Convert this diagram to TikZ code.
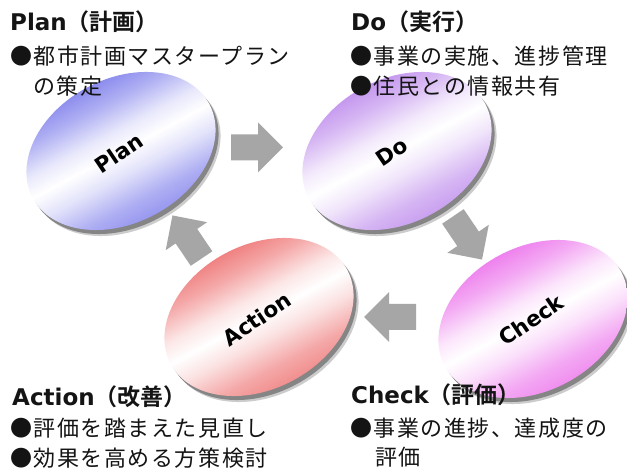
\documentclass[tikz,border=0pt]{standalone}
\usepackage{fontspec}
\setmainfont{DejaVu Sans}
\newfontfamily\jpfont{Noto Sans CJK JP}[LetterSpace=7]
\newfontfamily\jpbold{Noto Sans CJK JP Bold}
\newfontfamily\latbold{DejaVu Sans Bold}
\usetikzlibrary{calc}
\definecolor{plancol}{RGB}{140,140,238}
\definecolor{docol}{RGB}{196,150,238}
\definecolor{checkcol}{RGB}{238,130,238}
\definecolor{actcol}{RGB}{240,130,130}
\definecolor{arrowgray}{RGB}{166,166,166}
\definecolor{txt}{RGB}{20,20,20}
\newcommand\ovalshading[2]{%
  \pgfdeclareverticalshading{#1}{100bp}{color(0bp)=(#2); color(25bp)=(#2!90!white); color(32bp)=(#2!70!white); color(42bp)=(#2!25!white); color(50bp)=(white); color(57bp)=(#2!20!white); color(67bp)=(#2!70!white); color(75bp)=(#2); color(100bp)=(#2)}}
\ovalshading{planshade}{plancol}
\ovalshading{doshade}{docol}
\ovalshading{checkshade}{checkcol}
\ovalshading{actshade}{actcol}
\tikzset{
  headtext/.style={anchor=base west, inner sep=0pt, text=txt, font=\fontsize{23}{23}\selectfont},
  bodytext/.style={anchor=base west, inner sep=0pt, text=txt, font=\jpfont\fontsize{22}{22}\selectfont},
  ovallabel/.style={inner sep=0pt, rotate=34, font=\latbold\fontsize{21.5}{21.5}\selectfont},
  blockarrow/.style={fill=arrowgray},
}
\newcommand\pdcaoval[2]{%
  \begin{scope}[transform canvas={shift={($(#1)+(5,6)$)}, rotate=28}]
    \fill[black!20] (0,0) ellipse [x radius=100pt, y radius=72pt];
  \end{scope}
  \begin{scope}[transform canvas={shift={($(#1)+(3,4)$)}, rotate=28}]
    \fill[black!48] (0,0) ellipse [x radius=100pt, y radius=72pt];
  \end{scope}
  \begin{scope}[transform canvas={shift={(#1)}, rotate=28}]
    \shade[shading=#2] (0,0) ellipse [x radius=100pt, y radius=72pt];
  \end{scope}}
\newcommand\blockarr[2]{% block arrow: centre, angle
  \fill[blockarrow, shift={#1}, rotate=#2] (-26,13) -- (1,13) -- (1,25) -- (26,0) -- (1,-25) -- (1,-13) -- (-26,-13) -- cycle;}
\begin{document}
\begin{tikzpicture}[x=1pt, y=-1pt]
\useasboundingbox (0,0) rectangle (627,470);
\fill[white] (0,0) rectangle (627,470);
% oval centres
\coordinate (plan) at (121,151);
\coordinate (do) at (397,151);
\coordinate (action) at (259,317);
\coordinate (check) at (533,319);
\pdcaoval{plan}{planshade}
\pdcaoval{do}{doshade}
\pdcaoval{action}{actshade}
\pdcaoval{check}{checkshade}
\node[ovallabel] (planlbl) at ($(plan)+(-2,2)$) {Plan};
\node[ovallabel] (dolbl) at ($(do)+(-5,1)$) {Do};
\node[ovallabel] (actionlbl) at ($(action)+(-2,2)$) {Action};
\node[ovallabel] (checklbl) at ($(check)+(-2,1)$) {Check};
% block arrows
\blockarr{($(plan)!0.5!(do)+(-2,-3.5)$)}{0}
\blockarr{($(do)!0.5!(check)+(2.5,3)$)}{-56}
\blockarr{($(check)!0.5!(action)+(-6,-1)$)}{180}
\blockarr{($(action)!0.5!(plan)+(-3,3)$)}{124}
% texts
\node[headtext] (planhead) at (10,31) {{\latbold Plan}{\jpbold （計画）}};
\node[bodytext] (planb1) at (10,65) {●都市計画マスタープラン};
\node[bodytext] (planb2) at (33,95) {の策定};
\node[headtext] (dohead) at (351,31) {{\latbold Do}{\jpbold （実行）}};
\node[bodytext] (dob1) at (350,65) {●事業の実施、進捗管理};
\node[bodytext] (dob2) at (350,95) {●住民との情報共有};
\node[headtext] (acthead) at (12,406) {{\latbold Action}{\jpbold （改善）}};
\node[bodytext] (actb1) at (10,436) {●評価を踏まえた見直し};
\node[bodytext] (actb2) at (10,466) {●効果を高める方策検討};
\node[headtext] (checkhead) at (351,404) {{\latbold Check}{\jpbold （評価）}};
\node[bodytext] (checkb1) at (350,436) {●事業の進捗、達成度の};
\node[bodytext] (checkb2) at (375,465) {評価};
\end{tikzpicture}
\end{document}
